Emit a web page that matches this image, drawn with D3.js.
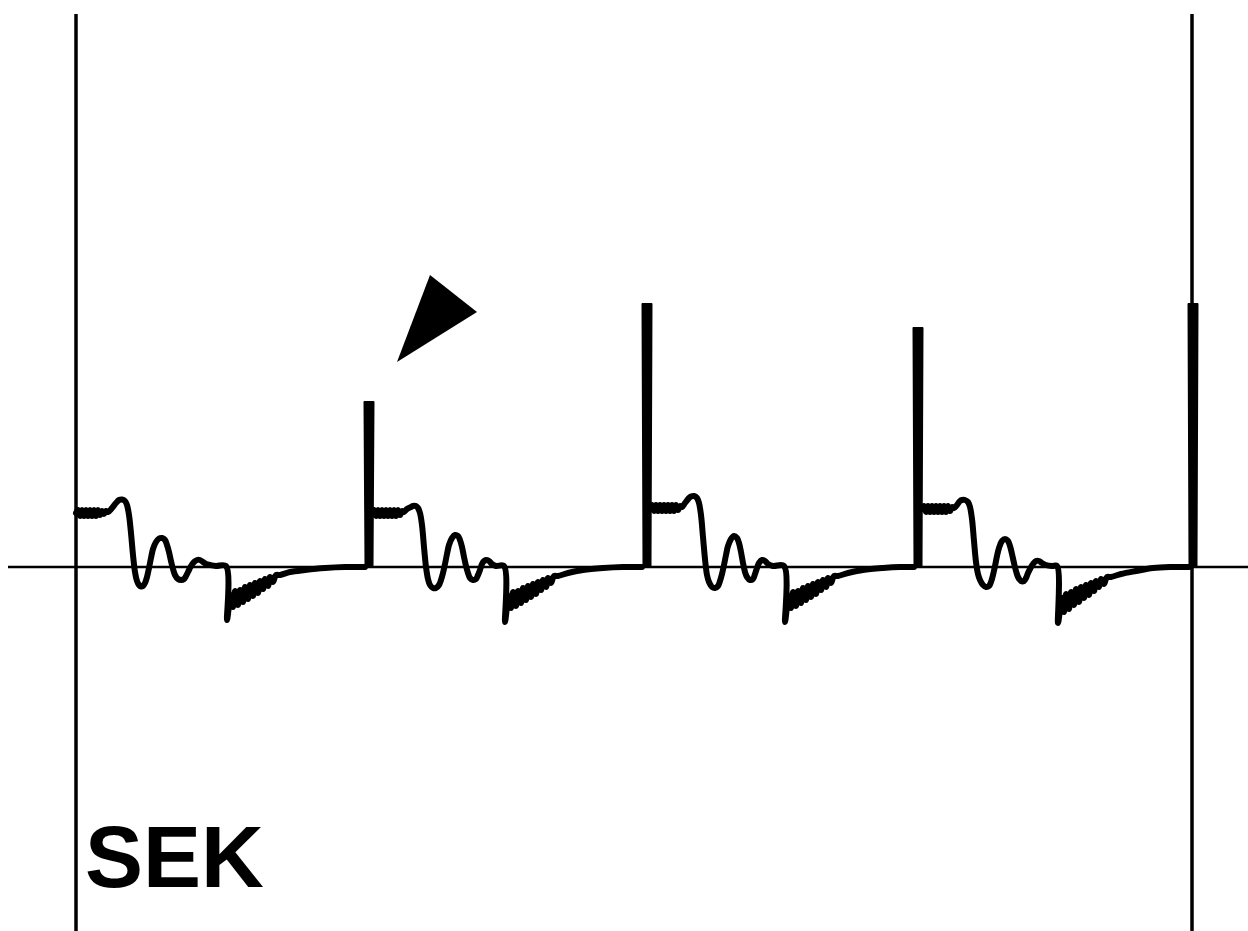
<!DOCTYPE html>
<html>
<head>
<meta charset="utf-8">
<script src="https://cdn.jsdelivr.net/npm/d3@7"></script>
<style>
  html, body { margin: 0; padding: 0; background: #fff; }
  svg { display: block; }
</style>
</head>
<body>
<svg id="chart" width="1248" height="931"></svg>
<script>
// Time (ms) and potential (arbitrary units, baseline = 0) of each beat.
const beat1 = [
  [0,54],[2,57],[4,51],[6,57],[8,51],[10,57],[12,51],[14,57],[16,51],[18,57],[20,51],[22,57],[24,52],[26,56],[28,53],[30,56],[32,55],
  [36,59],[40,64],[43,67],[46,67.5],[49,66],[51,62],[53,52],[55,34],[57,12],[59,-5],[61,-14],[63,-18],[65,-19.5],[67,-19],[69,-16],[71,-10],[73,-1],[75,9],[77,18],[80,25],[83,28.5],[86,29],[89,27],[91,22],[93,15],[95,6],[97,-2],[99,-8],[102,-12],[105,-13],[108,-12],[110,-9],[112,-5],[115,1],[118,5],[121,7],[124,7],[127,5],[130,3],[134,2],[140,1],[150,1],
  [151,-53],[153,-39],
  [155,-28],[157,-40],[159,-24],[162,-38],[164,-23],[167,-35],[169,-20],[172,-32],[174,-18],[177,-29],[179,-16],[182,-26],[184,-14],[187,-22],[189,-12],[192,-19],[194,-10],[197,-15],[200,-8],[204,-8],
  [214,-5],[229,-3],[249,-1],[269,0],[289,0]
];
const beat2 = [
  [296,54],[298,57],[300,51],[302,57],[304,51],[306,57],[308,51],[310,57],[312,51],[314,57],[316,51],[318,57],[320,51],[322,57],[324,52],[326,56],[328,55],
  [331,58],[335,60],[337,61],[340,61],[342,59],[344,54],[346,42],[348,20],[350,0],[352,-12],[354,-18],[357,-21],[360,-21],[363,-18],[365,-13],[367,-6],[369,3],[371,13],[373,22],[376,29],[379,32],[382,31],[384,27],[386,20],[388,10],[390,1],[392,-6],[394,-11],[397,-13],[400,-12],[402,-8],[404,-3],[406,3],[408,6],[410,7],[413,6],[416,3],[420,1],[428,1],
  [429,-55],[431,-40],
  [433,-29],[435,-41],[437,-25],[440,-39],[442,-24],[445,-36],[447,-21],[450,-33],[452,-19],[455,-30],[457,-17],[460,-27],[462,-15],[465,-23],[467,-13],[470,-20],[472,-11],[475,-16],[478,-9],[482,-9],
  [492,-6],[507,-3],[527,-1],[547,0],[566,0]
];
const beat3 = [
  [574,59],[576,62],[578,56],[580,62],[582,56],[584,62],[586,56],[588,62],[590,56],[592,62],[594,56],[596,62],[598,56],[600,62],[602,57],[604,61],[606,60],
  [609,64],[613,69],[615,70.5],[618,71],[621,69],[623,64],[625,52],[627,30],[629,8],[631,-8],[633,-15],[636,-20],[639,-21],[642,-19],[644,-14],[646,-7],[648,2],[650,12],[652,21],[655,28],[658,31],[661,29],[663,24],[665,15],[667,4],[669,-5],[671,-10],[674,-13],[677,-12],[679,-7],[681,-1],[683,4],[686,7],[689,6],[692,3],[697,1],[708,1],
  [709,-55],[711,-40],
  [713,-29],[715,-41],[717,-25],[720,-39],[722,-24],[725,-36],[727,-21],[730,-33],[732,-19],[735,-30],[737,-17],[740,-27],[742,-15],[745,-23],[747,-13],[750,-20],[752,-11],[755,-16],[758,-9],[762,-9],
  [772,-6],[787,-3],[807,-1],[824,0],[838,0]
];
const beat4 = [
  [846,58],[848,61],[850,55],[852,61],[854,55],[856,61],[858,55],[860,61],[862,55],[864,61],[866,55],[868,61],[870,55],[872,61],[874,56],[876,60],[878,59],
  [881,62],[884,66],[886,67],[889,67],[892,65],[894,60],[896,48],[898,26],[900,5],[902,-7],[904,-13],[907,-18],[910,-20],[913,-19],[915,-15],[917,-8],[919,1],[921,11],[923,19],[926,26],[929,28],[932,26],[934,21],[936,13],[938,4],[940,-4],[942,-10],[945,-14],[948,-14],[950,-11],[952,-6],[954,-2],[957,3],[960,6],[963,6],[966,4],[970,2],[976,1],[981,1],
  [982,-56],[984,-43],
  [986,-31],[988,-45],[990,-27],[993,-42],[995,-25],[998,-38],[1000,-22],[1003,-35],[1005,-20],[1008,-31],[1010,-18],[1013,-28],[1015,-16],[1018,-24],[1020,-14],[1023,-20],[1025,-12],[1028,-17],[1031,-10],[1035,-10],
  [1045,-7],[1060,-4],[1077,-1],[1094,0],[1113,0]
];
const beats = [beat1, beat2, beat3, beat4];

// Stimulus artefacts: time and peak height.
const spikeTimes = [293, 571, 842, 1117];
const spikeHeights = [165, 263, 239, 263];

// Arrowhead marker vertices (time, potential).
const markerPoints = [[354, 292], [401, 255], [321, 205]];

// Recording window edges (time) and label.
const windowEdges = [0, 1116];
const label = "SEK";

const svg = d3.select("#chart");
const x = d3.scaleLinear().domain([-68, 1172]).range([8, 1248]);
const y = d3.scaleLinear().domain([-364, 553]).range([931, 14]);

// Vertical window edges
svg.append("g").selectAll("line").data(windowEdges).join("line")
  .attr("x1", d => x(d)).attr("x2", d => x(d))
  .attr("y1", y(553)).attr("y2", y(-364))
  .attr("stroke", "#000").attr("stroke-width", 3.5);

// Isoelectric baseline
svg.append("line")
  .attr("x1", x(-68)).attr("x2", x(1172))
  .attr("y1", y(0)).attr("y2", y(0))
  .attr("stroke", "#000").attr("stroke-width", 2.5);

// Traces of each beat
const line = d3.line()
  .x(d => x(d[0])).y(d => y(d[1]))
  .curve(d3.curveCatmullRom.alpha(0.5));

svg.append("g").selectAll("path").data(beats).join("path")
  .attr("d", line)
  .attr("fill", "none")
  .attr("stroke", "#000")
  .attr("stroke-width", 6)
  .attr("stroke-linejoin", "round")
  .attr("stroke-linecap", "round");

// Stimulus spikes as tapered bars
const spikes = spikeTimes.map((t, i) => ({ t, h: spikeHeights[i] }));
svg.append("g").selectAll("path").data(spikes).join("path")
  .attr("d", d => {
    const cx = x(d.t), b = y(0), top = y(d.h);
    return `M${cx - 3.5},${b} L${cx - 4.5},${top} L${cx + 4.5},${top} L${cx + 3.5},${b} Z`;
  })
  .attr("fill", "#000")
  .attr("stroke", "#000")
  .attr("stroke-width", 2)
  .attr("stroke-linejoin", "round");

// Arrowhead marker
svg.append("path")
  .attr("d", "M" + markerPoints.map(p => [x(p[0]), y(p[1])].join(",")).join("L") + "Z")
  .attr("fill", "#000");

// Label
svg.append("text")
  .attr("x", 85).attr("y", 887)
  .attr("font-family", "'Liberation Sans', Arial, Helvetica, sans-serif")
  .attr("font-weight", "bold")
  .attr("font-size", 87)
  .attr("fill", "#000")
  .text(label);
</script>
</body>
</html>
